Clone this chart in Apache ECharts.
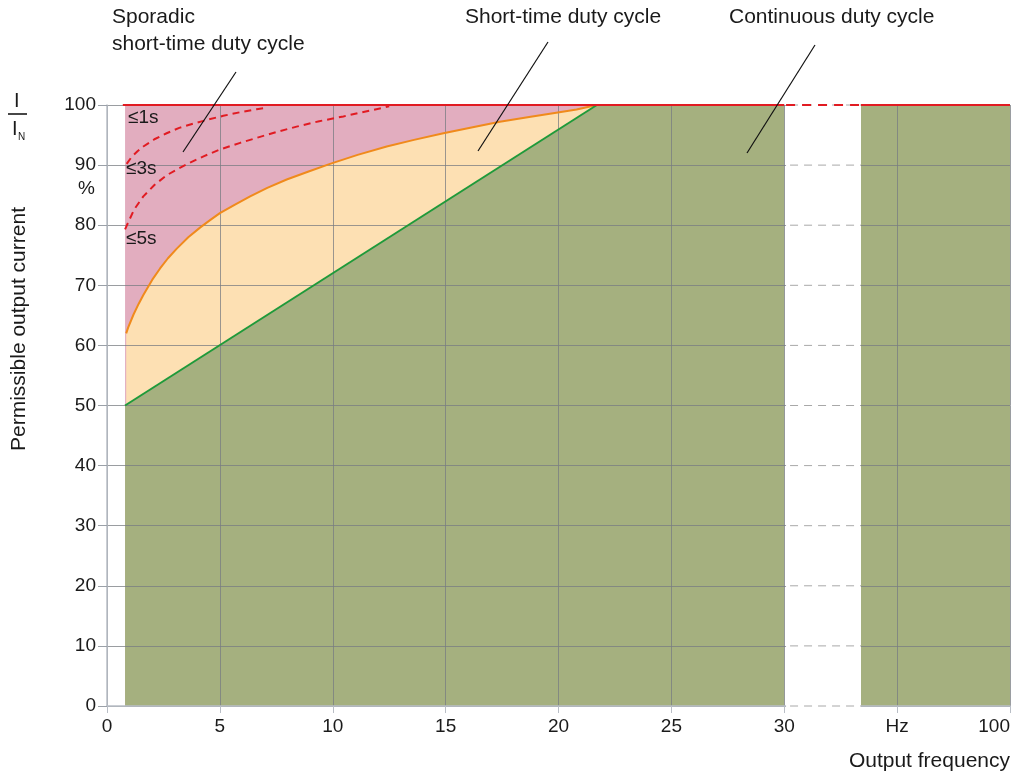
<!DOCTYPE html>
<html>
<head>
<meta charset="utf-8">
<script src="https://cdn.jsdelivr.net/npm/echarts@6/dist/echarts.min.js"></script>
<style>
  html, body { margin: 0; padding: 0; background: #fff; }
  #chart { width: 1017px; height: 776px; }
</style>
</head>
<body>
<div id="chart"></div>
<script>
  // x axis is drawn in "position" units: 0..30 Hz, break, then Hz / 100
  const xTicks = [0, 5, 10, 15, 20, 25, 30, 35, 40];
  const xTickLabels = ['0', '5', '10', '15', '20', '25', '30', 'Hz', '100'];
  const yTicks = [0, 10, 20, 30, 40, 50, 60, 70, 80, 90, 100];
  const gapRange = [30.08, 33.4];

  // limits
  const sporadicTop = [[0.8, 100], [21.7, 100]];
  const shortTime = [[0.85, 62], [0.94, 63], [1.17, 65.1], [1.4, 66.9], [1.61, 68.4], [2.0, 70.9], [2.35, 72.8],
    [2.7, 74.5], [3.09, 76.1], [3.6, 78], [4.12, 79.6], [4.55, 80.8], [5.0, 82], [5.65, 83.4], [6.34, 84.8],
    [7.1, 86.2], [7.96, 87.6], [8.9, 88.9], [9.88, 90.2], [11.1, 91.7], [12.39, 93.1], [13.6, 94.2], [14.9, 95.3],
    [16.2, 96.3], [17.4, 97.2], [18.7, 98], [19.9, 98.7], [20.8, 99.25], [21.7, 100]];
  const continuous = [[0.8, 50], [21.7, 100], [30, 100]];
  const continuousHigh = [[33.4, 100], [40, 100]];
  const limit1s = [[0.87, 90.2], [1.1, 91.4], [1.35, 92.3], [1.61, 93.1], [2.1, 94.3], [2.64, 95.3], [3.2, 96.2],
    [3.83, 96.9], [4.5, 97.6], [5.15, 98.2], [5.9, 98.8], [6.63, 99.3], [7.0, 99.5]];
  const limit3s = [[0.8, 79.3], [0.87, 79.9], [1.2, 82.6], [1.61, 84.8], [2.1, 86.7], [2.64, 88.3], [3.15, 89.4],
    [3.68, 90.4], [4.3, 91.5], [5.0, 92.6], [5.9, 93.7], [6.78, 94.7], [7.6, 95.6], [8.4, 96.4], [9.4, 97.3],
    [10.47, 98.1], [11.3, 98.8], [12.24, 99.55], [12.5, 99.8]];
  const ratedLow = [[0.7, 100], [30, 100]];
  const ratedHigh = [[33.4, 100], [40, 100]];

  const font = 'Liberation Sans, Arial, sans-serif';
  const gridColor = 'rgba(120,124,130,0.75)';

  const chart = echarts.init(document.getElementById('chart'));

  function area(data, color, z) {
    return {
      type: 'line', data: data, z: z, showSymbol: false, silent: true,
      lineStyle: { width: 0 }, areaStyle: { color: color, opacity: 1 }
    };
  }
  function curve(data, color, z, dashed) {
    return {
      type: 'line', data: data, z: z, showSymbol: false, silent: true,
      lineStyle: { color: color, width: 2, type: dashed ? [7, 5] : 'solid', join: 'round' }
    };
  }

  const option = {
    animation: false,
    grid: { left: 107, right: 7, top: 105, bottom: 70, outerBoundsMode: 'none', containLabel: false },
    xAxis: {
      type: 'value', min: 0, max: 40, interval: 5, z: 5,
      axisLine: { show: true, lineStyle: { color: '#b9bec6', width: 1.5 } },
      axisTick: { show: true, length: 7, lineStyle: { color: '#b9bec6' } },
      axisLabel: {
        color: '#1a1a1a', fontSize: 19, fontFamily: font, margin: 11, alignMaxLabel: 'right',
        formatter: v => xTickLabels[xTicks.indexOf(v)]
      },
      splitLine: { show: true, lineStyle: { color: gridColor, width: 1 } }
    },
    yAxis: {
      type: 'value', min: 0, max: 100, interval: 10, z: 5,
      axisLine: { show: true, lineStyle: { color: '#b9bec6', width: 1.5 } },
      axisTick: { show: true, length: 9, lineStyle: { color: '#9aa0a8' } },
      axisLabel: { color: '#1a1a1a', fontSize: 19, fontFamily: font, margin: 11 },
      splitLine: { show: true, lineStyle: { color: gridColor, width: 1 } }
    },
    series: [
      area(sporadicTop, '#e2adbf', 1),
      area(shortTime, '#fde0b3', 2),
      area(continuous, '#a5b07f', 3),
      area(continuousHigh, '#a5b07f', 3),
      curve(shortTime, '#f08a1c', 6, false),
      curve(continuous.slice(0, 2), '#1f9a3a', 6, false),
      curve(limit1s, '#e11b22', 6, true),
      curve(limit3s, '#e11b22', 6, true),
      curve(ratedLow, '#e11b22', 7, false),
      curve(ratedHigh, '#e11b22', 7, false),
      {
        type: 'custom', z: 8, silent: true, data: [gapRange],
        renderItem: function (params, api) {
          const p0 = api.coord([api.value(0), 100]);
          const p1 = api.coord([api.value(1), 0]);
          const kids = [{
            type: 'rect', shape: { x: p0[0], y: p0[1] - 1, width: p1[0] - p0[0], height: p1[1] - p0[1] + 3 },
            style: { fill: '#fff' }
          }];
          yTicks.forEach(function (t) {
            const y = api.coord([0, t])[1];
            kids.push({
              type: 'line', shape: { x1: p0[0] + 4, y1: y, x2: p1[0], y2: y },
              style: { stroke: '#a8a8a8', lineWidth: 1, lineDash: [8, 6] }
            });
            if (t === 100) {
              kids.push({
                type: 'line', shape: { x1: p0[0], y1: y, x2: p1[0], y2: y },
                style: { stroke: '#e11b22', lineWidth: 2, lineDash: [9, 7] }
              });
            }
          });
          return { type: 'group', children: kids };
        }
      }
    ],
    graphic: [
      { type: 'text', left: 112, top: 7, style: { text: 'Sporadic', font: '21px ' + font, fill: '#1a1a1a' } },
      { type: 'text', left: 112, top: 34, style: { text: 'short-time duty cycle', font: '21px ' + font, fill: '#1a1a1a' } },
      { type: 'text', left: 465, top: 7, style: { text: 'Short-time duty cycle', font: '21px ' + font, fill: '#1a1a1a' } },
      { type: 'text', left: 729, top: 7, style: { text: 'Continuous duty cycle', font: '21px ' + font, fill: '#1a1a1a' } },
      { type: 'line', shape: { x1: 236, y1: 72, x2: 183, y2: 152 }, style: { stroke: '#111', lineWidth: 1.2 }, z: 100 },
      { type: 'line', shape: { x1: 548, y1: 42, x2: 478, y2: 151 }, style: { stroke: '#111', lineWidth: 1.2 }, z: 100 },
      { type: 'line', shape: { x1: 815, y1: 45, x2: 747, y2: 153 }, style: { stroke: '#111', lineWidth: 1.2 }, z: 100 },
      { type: 'text', left: 128, top: 108, z: 100, style: { text: '≤1s', font: '19px ' + font, fill: '#1a1a1a' } },
      { type: 'text', left: 126, top: 159, z: 100, style: { text: '≤3s', font: '19px ' + font, fill: '#1a1a1a' } },
      { type: 'text', left: 126, top: 229, z: 100, style: { text: '≤5s', font: '19px ' + font, fill: '#1a1a1a' } },
      { type: 'text', left: 78, top: 179, style: { text: '%', font: '19px ' + font, fill: '#1a1a1a' } },
      { type: 'text', right: 7, top: 751, style: { text: 'Output frequency', font: '21px ' + font, fill: '#1a1a1a' } },
      {
        type: 'text', x: 19, y: 329, rotation: Math.PI / 2, z: 100,
        style: { text: 'Permissible output current', font: '21px ' + font, fill: '#1a1a1a', align: 'center', verticalAlign: 'middle' }
      },
      { type: 'text', x: 14, y: 91, style: { text: 'I', font: '20px ' + font, fill: '#1a1a1a' } },
      { type: 'line', shape: { x1: 8, y1: 114, x2: 27, y2: 114 }, style: { stroke: '#1a1a1a', lineWidth: 1.6 } },
      { type: 'text', x: 12, y: 119, style: { text: 'I', font: '20px ' + font, fill: '#1a1a1a' } },
      { type: 'text', x: 18, y: 132, style: { text: 'N', font: '10px ' + font, fill: '#1a1a1a' } }
    ]
  };
  chart.setOption(option);
</script>
</body>
</html>
